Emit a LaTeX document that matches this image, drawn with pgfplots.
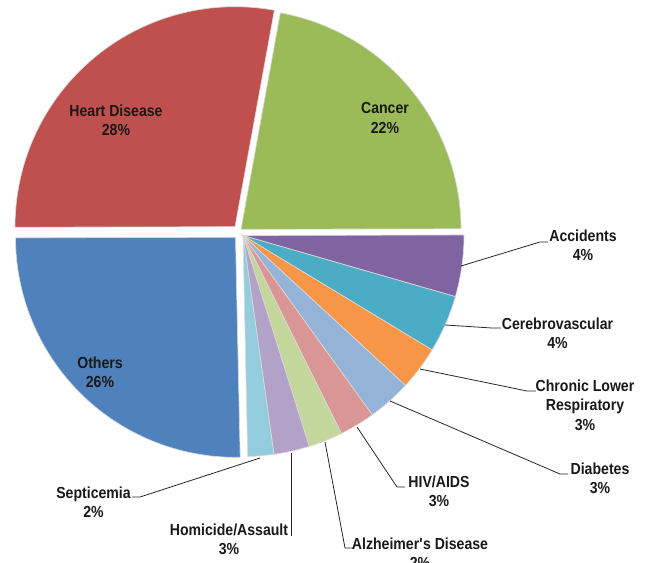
\documentclass[border=0pt]{standalone}
\usepackage{pgfplots}
\pgfplotsset{compat=1.18}
\usepackage{fontspec}
\setmainfont{Liberation Sans}[FakeStretch=0.88]

\definecolor{cHeart}{HTML}{C0504D}
\definecolor{cCancer}{HTML}{9BBB59}
\definecolor{cAcc}{HTML}{8064A2}
\definecolor{cCereb}{HTML}{4BACC6}
\definecolor{cCLR}{HTML}{F79646}
\definecolor{cDiab}{HTML}{95B3D7}
\definecolor{cHIV}{HTML}{D99694}
\definecolor{cAlz}{HTML}{C3D69B}
\definecolor{cHom}{HTML}{B3A2C7}
\definecolor{cSept}{HTML}{93CDDD}
\definecolor{cOth}{HTML}{4F81BD}
\definecolor{slicebd}{HTML}{D9D9D9}

\tikzset{lab/.style={align=center, font=\fontsize{12}{14.5}\selectfont\bfseries,
              inner sep=0pt, text=black!90}}

% #1 cumulative start (%), #2 share (%), #3 colour, #4,#5 apex, #6 radius
\newcommand{\slice}[6]{%
  \pgfmathsetmacro\aA{79.7-3.6*#1}%
  \pgfmathsetmacro\aB{79.7-3.6*(#1+#2)}%
  \edef\doslice{\noexpand\addplot[fill=#3, draw=slicebd, line width=0.5pt,
     domain=\aB:\aA, samples=90]
     ({#4+#6*cos(x)},{#5+#6*sin(x)}) -- (axis cs:#4,#5) -- cycle;}%
  \doslice}

\begin{document}
\begin{tikzpicture}
\begin{axis}[
  scale only axis, width=486.75pt, height=421.5pt,
  xmin=0, xmax=649, ymin=0, ymax=562,
  hide axis, clip=false,
]
\coordinate (bl) at (axis cs:0,0);
\coordinate (tr) at (axis cs:649,562);
% slices: start%, share%, colour, apex x, apex y, radius
\slice{0}{22.1}{cCancer}{241}{332.7}{220}
\slice{22.1}{4.5}{cAcc}{243}{326.5}{221}
\slice{26.6}{4.2}{cCereb}{243}{326.5}{221}
\slice{30.8}{3.2}{cCLR}{243}{326.5}{221}
\slice{34.0}{3.2}{cDiab}{243}{326.5}{221}
\slice{37.2}{2.6}{cHIV}{243}{326.5}{221}
\slice{39.8}{2.5}{cAlz}{243}{326.5}{221}
\slice{42.3}{2.6}{cHom}{243}{326.5}{221}
\slice{44.9}{1.9}{cSept}{243}{326.5}{221}
\slice{46.8}{25.3}{cOth}{235.5}{324.7}{220}
\slice{72.1}{27.9}{cHeart}{235}{335.3}{220}

% leader lines
\addplot[black!85, line width=0.6pt] coordinates {(461,296) (540,320) (548,320)};
\addplot[black!85, line width=0.6pt] coordinates {(445,237) (492,234) (501,234)};
\addplot[black!85, line width=0.6pt] coordinates {(420,193) (527,171) (536,171)};
\addplot[black!85, line width=0.6pt] coordinates {(390,161) (560,88) (568,88)};
\addplot[black!85, line width=0.6pt] coordinates {(357,135) (397,75) (405,75)};
\addplot[black!85, line width=0.6pt] coordinates {(325,120) (345,14) (353,14)};
\addplot[black!85, line width=0.6pt] coordinates {(291,109) (291,26)};
\addplot[black!85, line width=0.6pt] coordinates {(260,104) (140,65) (132,65)};

% labels
\node[lab] at (axis cs:116,442) {Heart Disease\\28\%};
\node[lab] at (axis cs:385,444) {Cancer\\22\%};
\node[lab] at (axis cs:100,190) {Others\\26\%};
\node[lab] at (axis cs:583,316.5) {Accidents\\4\%};
\node[lab] at (axis cs:557.5,228.5) {Cerebrovascular\\4\%};
\node[lab] at (axis cs:585,157) {Chronic Lower\\Respiratory\\3\%};
\node[lab] at (axis cs:600,84) {Diabetes\\3\%};
\node[lab] at (axis cs:439,70.5) {HIV/AIDS\\3\%};
\node[lab] at (axis cs:420,8.5) {Alzheimer\textquotesingle s Disease\\2\%};
\node[lab] at (axis cs:229,22.5) {Homicide/Assault\\3\%};
\node[lab] at (axis cs:93.5,60) {Septicemia\\2\%};
\end{axis}
\pgfresetboundingbox
\useasboundingbox (bl) rectangle (tr);
\end{tikzpicture}
\end{document}
